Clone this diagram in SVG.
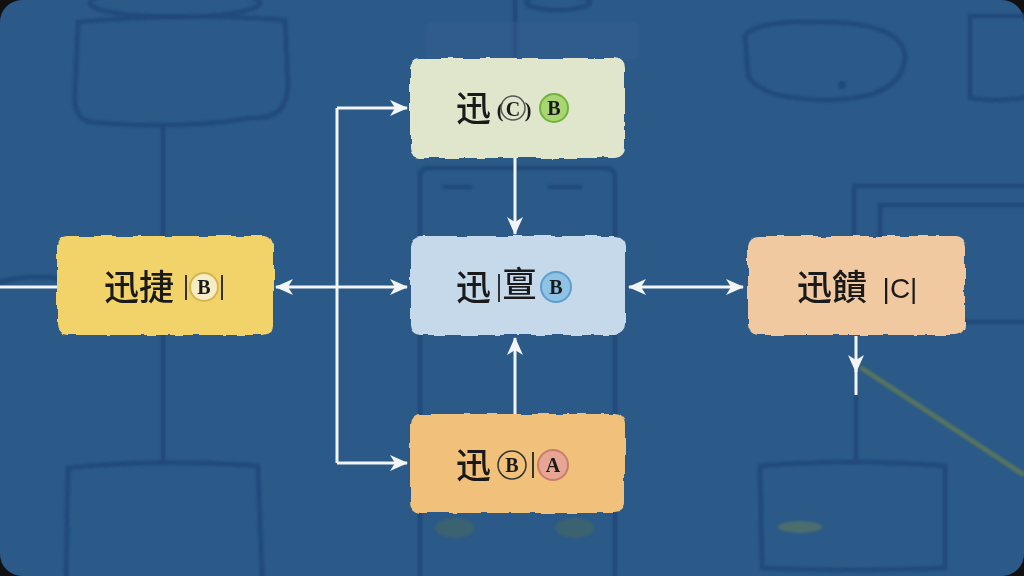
<svg xmlns="http://www.w3.org/2000/svg" width="1024" height="576" viewBox="0 0 1024 576">
<defs>
<filter id="rough" x="-5%" y="-5%" width="110%" height="110%">
<feTurbulence type="fractalNoise" baseFrequency="0.06" numOctaves="2" seed="3" result="n"/>
<feDisplacementMap in="SourceGraphic" in2="n" scale="5" xChannelSelector="R" yChannelSelector="G"/>
</filter>
<filter id="soft"><feGaussianBlur stdDeviation="1.2"/></filter>
<marker id="ah" viewBox="0 0 18 16" refX="17" refY="8" markerWidth="18" markerHeight="16" markerUnits="userSpaceOnUse" orient="auto-start-reverse">
<path d="M0,0 L18,8 L0,16 L5,8 z" fill="#f2f4f6"/>
</marker>
</defs>
<style>
.bg{fill:none;stroke:#22497a;stroke-width:5;stroke-linecap:round;stroke-linejoin:round;opacity:0.85}
.node{stroke:none;filter:url(#rough)}
.cjk{font-family:"Noto Sans CJK SC","Noto Serif CJK SC",serif;font-size:35px;font-weight:500;fill:#1a1a1a}
.let{font-family:"Liberation Serif",serif;font-size:20px;font-weight:bold;fill:#1a1a1a;text-anchor:middle}
.conn{fill:none;stroke:#f2f4f6;stroke-width:3}
.brk{stroke:#333;stroke-width:2;fill:none}
</style>
<rect width="1024" height="576" fill="#111"/>
<rect x="0" y="0" width="1024" height="576" rx="22" fill="#2b5a89"/>

<g id="background" filter="url(#soft)">
<ellipse cx="175" cy="3" rx="85" ry="14" class="bg"/>
<path class="bg" d="M78,22 Q180,12 285,20 L288,85 Q288,120 250,118 Q180,130 90,122 Q72,118 75,90 Z"/>
<line class="bg" x1="163" y1="125" x2="163" y2="236"/>
<line class="bg" x1="163" y1="335" x2="163" y2="462"/>
<path class="bg" d="M68,468 Q160,458 258,466 L262,576 M68,468 L66,576"/>
<path class="bg" d="M0,282 Q30,274 57,278"/>
<line class="bg" x1="515" y1="0" x2="515" y2="55"/>
<ellipse cx="558" cy="2" rx="32" ry="8" class="bg"/>
<rect x="425" y="22" width="215" height="38" rx="6" fill="#3a6594" opacity="0.25"/>
<path class="bg" d="M420,175 Q420,168 430,168 L605,168 Q615,168 615,178 L615,576 M420,175 L420,576"/>
<line class="bg" x1="445" y1="187" x2="470" y2="187" stroke-width="7"/>
<line class="bg" x1="550" y1="187" x2="580" y2="187" stroke-width="7"/>
<path class="bg" d="M745,35 Q760,20 820,22 Q900,22 905,55 Q905,98 830,100 Q760,100 748,75 Z" opacity="0.35"/>
<circle cx="842" cy="85" r="4" fill="#22497a"/>
<path class="bg" d="M970,16 L1024,16 M970,16 L970,98 Q995,102 1024,98"/>
<path class="bg" d="M854,310 L854,186 L1024,186"/>
<path class="bg" d="M880,322 L880,205 L1024,205 M880,322 L1024,322"/>
<line x1="860" y1="367" x2="1024" y2="475" stroke="#6b7f4e" stroke-width="5" opacity="0.7"/>
<line class="bg" x1="856" y1="395" x2="856" y2="462"/>
<path class="bg" d="M760,466 Q850,458 945,466 L945,568 Q850,572 762,568 Z"/>
<ellipse cx="800" cy="527" rx="22" ry="6" fill="#5f7a5a" opacity="0.6"/>
<ellipse cx="455" cy="528" rx="20" ry="10" fill="#4c6a5a" opacity="0.5"/>
<ellipse cx="575" cy="528" rx="20" ry="10" fill="#4c6a5a" opacity="0.5"/>
</g>

<g id="connectors">
<path class="conn" d="M337,108 V463"/>
<path class="conn" d="M337,108 H407" marker-end="url(#ah)"/>
<path class="conn" d="M337,287 H407" marker-end="url(#ah)"/>
<path class="conn" d="M337,463 H407" marker-end="url(#ah)"/>
<path class="conn" d="M337,287 H276" marker-end="url(#ah)"/>
<path class="conn" d="M0,287 H57"/>
<path class="conn" d="M515,158 V234" marker-end="url(#ah)"/>
<path class="conn" d="M515,414 V338" marker-end="url(#ah)"/>
<path class="conn" d="M629,287 H743" marker-start="url(#ah)" marker-end="url(#ah)"/>
<path class="conn" d="M856,336 V372" marker-end="url(#ah)"/>
<path class="conn" d="M856,370 V395"/>
</g>

<g id="node-top">
<rect class="node" x="410" y="58" width="215" height="100" rx="10" fill="#dfe6cc"/>
<text class="cjk" x="456" y="121">迅</text>
<text class="let" x="500" y="117" font-size="26">(</text>
<circle cx="513" cy="108" r="12" fill="none" stroke="#555" stroke-width="1.5"/>
<text class="let" x="513" y="116" font-size="24">C</text>
<text class="let" x="528" y="117" font-size="26">)</text>
<circle cx="554" cy="108" r="14" fill="#a9d673" stroke="#6fb33d" stroke-width="2"/>
<text class="let" x="554" y="115">B</text>
</g>

<g id="node-left">
<rect class="node" x="57" y="236" width="216" height="99" rx="10" fill="#f2d36b"/>
<text class="cjk" x="104" y="300" font-size="37">迅捷</text>
<line class="brk" x1="186" y1="275" x2="186" y2="300"/>
<circle cx="204" cy="287" r="14" fill="#f6edc6" stroke="#d7b54e" stroke-width="2"/>
<text class="let" x="204" y="294">B</text>
<line class="brk" x1="222" y1="275" x2="222" y2="300"/>
</g>

<g id="node-center">
<rect class="node" x="410" y="236" width="215" height="99" rx="10" fill="#c6d9ea"/>
<text class="cjk" x="456" y="300">迅</text>
<line class="brk" x1="499" y1="274" x2="499" y2="302"/>
<text class="cjk" x="502" y="297" font-size="27">亶</text>
<circle cx="556" cy="287" r="15" fill="#8fc3e6" stroke="#5d9dc9" stroke-width="2"/>
<text class="let" x="556" y="294">B</text>
</g>

<g id="node-right">
<rect class="node" x="748" y="236" width="217" height="99" rx="10" fill="#f0c9a0"/>
<text class="cjk" x="797" y="300" font-size="37">迅饋</text>
<text x="900" y="298" font-family="Liberation Sans, sans-serif" font-size="28" fill="#1a1a1a" text-anchor="middle">|C|</text>
</g>

<g id="node-bottom">
<rect class="node" x="410" y="414" width="215" height="99" rx="10" fill="#f1c07a"/>
<text class="cjk" x="456" y="478">迅</text>
<circle cx="512" cy="465" r="14" fill="none" stroke="#333" stroke-width="1.5"/>
<text class="let" x="512" y="472">B</text>
<line class="brk" x1="533" y1="452" x2="533" y2="478"/>
<circle cx="553" cy="465" r="15" fill="#e7a596" stroke="#c97c6c" stroke-width="2"/>
<text class="let" x="553" y="472">A</text>
</g>
</svg>
